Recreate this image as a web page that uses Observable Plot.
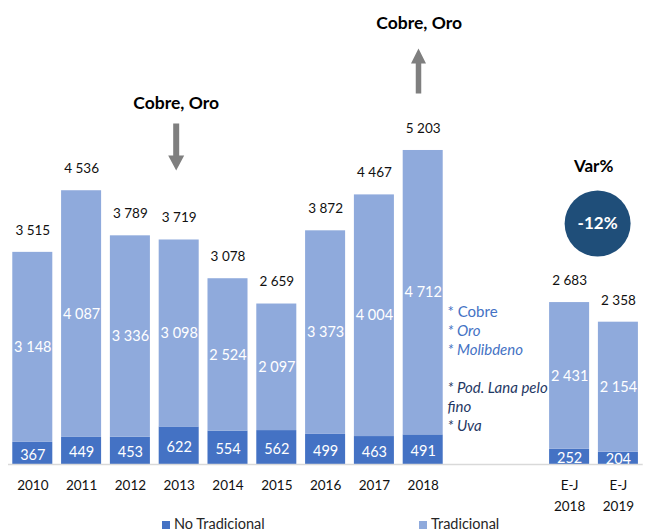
<!DOCTYPE html>
<html>
<head>
<meta charset="utf-8">
<script src="https://cdn.jsdelivr.net/npm/d3@7"></script>
<script src="https://cdn.jsdelivr.net/npm/@observablehq/plot@0.6"></script>
<style>
  html, body { margin: 0; padding: 0; background: #fff; }
  #wrap { position: relative; width: 654px; height: 531px; overflow: hidden; font-family: Lato, "Open Sans", sans-serif; }
  #wrap svg { position: absolute; left: 0; top: 0; }
  .leg { position: absolute; top: 515px; font-size: 14.5px; color: #262626; line-height: 18px; white-space: nowrap; }
  .sw { display: inline-block; width: 8px; height: 8px; margin-right: 4px; }
</style>
</head>
<body>
<div id="wrap"></div>
<script>
// ---- data ----
const categories = ["2010","2011","2012","2013","2014","2015","2016","2017","2018","E-J 2018","E-J 2019"];
const tickLabels = ["2010","2011","2012","2013","2014","2015","2016","2017","2018","E-J\n2018","E-J\n2019"];
const noTradicional = [367,449,453,622,554,562,499,463,491,252,204];
const tradicional = [3148,4087,3336,3098,2524,2097,3373,4004,4712,2431,2154];
const totals = [3515,4536,3789,3719,3078,2659,3872,4467,5203,2683,2358];
const seriesNames = ["No Tradicional","Tradicional"];
const annotationCats = ["2013","2018"];
const annotationTexts = ["Cobre, Oro","Cobre, Oro"];
const varTitle = "Var%";
const varValue = "-12%";
const listItems = ["* Cobre","* Oro","* Molibdeno","","* Pod. Lana pelo","fino","* Uva"];

// ---- derived tables ----
const slots = [...categories.slice(0, 9), "gap1", "gap2", ...categories.slice(9)];
const rows = [];
categories.forEach((c, i) => {
  rows.push({cat: c, type: seriesNames[0], value: noTradicional[i], mid: noTradicional[i] / 2});
  rows.push({cat: c, type: seriesNames[1], value: tradicional[i], mid: noTradicional[i] + tradicional[i] / 2});
});
const tops = categories.map((c, i) => ({cat: c, top: noTradicional[i] + tradicional[i], label: totals[i]}));
const ticks = categories.map((c, i) => {
  const parts = tickLabels[i].split("\n");
  return {cat: c, l1: parts[0], l2: parts[1] || ""};
});
const fmt = v => d3.format(",")(v).replace(/,/g, " ");
const topOf = c => tops.find(d => d.cat === c).top;

const colors = ["#4472c4", "#8faadc"];
const font = "Lato, 'Open Sans', sans-serif";

// custom arrow symbols (shape relative to center)
const downArrow = {draw(ctx) {
  ctx.moveTo(-3, -23.5); ctx.lineTo(3, -23.5); ctx.lineTo(3, 8.5); ctx.lineTo(8, 8.5);
  ctx.lineTo(0, 23.5); ctx.lineTo(-8, 8.5); ctx.lineTo(-3, 8.5); ctx.closePath();
}};
const upArrow = {draw(ctx) {
  ctx.moveTo(0, -22.5); ctx.lineTo(7.5, -7.5); ctx.lineTo(2.75, -7.5); ctx.lineTo(2.75, 22.5);
  ctx.lineTo(-2.75, 22.5); ctx.lineTo(-2.75, -7.5); ctx.lineTo(-7.5, -7.5); ctx.closePath();
}};

const ann = annotationCats.map((c, i) => ({cat: c, text: annotationTexts[i], top: topOf(c)}));
const listRows = listItems.map((t, i) => ({i, t})).filter(d => d.t);
const varAnchor = [{cat: "E-J 2018", top: topOf("E-J 2018")}];

const chart = Plot.plot({
  width: 654, height: 512,
  marginLeft: 3.5, marginRight: 7.3, marginTop: 0, marginBottom: 48,
  x: {domain: slots, padding: 0.18, round: false, axis: null},
  y: {domain: [0, 7688], axis: null},
  color: {domain: seriesNames, range: colors},
  style: {fontFamily: font, fontSize: "13px", background: "white", overflow: "visible"},
  marks: [
    Plot.barY(rows, {x: "cat", y: "value", fill: "type", order: seriesNames}),
    Plot.ruleY([0], {stroke: "#d9d9d9", strokeWidth: 1.5, insetLeft: 4.5, insetRight: 4}),
    // inner labels
    Plot.text(rows.filter(d => d.type === seriesNames[1]), {x: "cat", y: "mid", text: d => fmt(d.value), fill: "white", fontSize: 14.5}),
    Plot.text(rows.filter(d => d.type === seriesNames[0]), {x: "cat", y: "mid", text: d => fmt(d.value), fill: "white", fontSize: 14.5, dy: 1.5}),
    // totals
    Plot.text(tops, {x: "cat", y: "top", text: d => fmt(d.label), fill: "#111", fontSize: 13.5, dy: -22}),
    // x tick labels
    Plot.text(ticks, {x: "cat", y: 0, text: "l1", fill: "#111", fontSize: 13.5, dy: 21}),
    Plot.text(ticks, {x: "cat", y: 0, text: "l2", fill: "#111", fontSize: 13.5, dy: 42}),
    // annotations
    Plot.text(ann.filter(d => d.cat === annotationCats[0]), {x: "cat", y: "top", text: "text", fontWeight: "bold", fontSize: 17.5, fill: "#000", dx: -3, dy: -136.6}),
    Plot.dot(ann.filter(d => d.cat === annotationCats[0]), {x: "cat", y: "top", symbol: downArrow, fill: "#7f7f7f", stroke: "none", dx: -3, dy: -93.1}),
    Plot.text(ann.filter(d => d.cat === annotationCats[1]), {x: "cat", y: "top", text: "text", fontWeight: "bold", fontSize: 17.5, fill: "#000", dx: -4, dy: -127}),
    Plot.dot(ann.filter(d => d.cat === annotationCats[1]), {x: "cat", y: "top", symbol: upArrow, fill: "#7f7f7f", stroke: "none", dx: -4.7, dy: -79.5}),
    // Var%
    Plot.text(varAnchor, {x: "cat", y: "top", text: [varTitle], fontWeight: "bold", fontSize: 17, fill: "#000", dx: 24, dy: -136}),
    Plot.dot(varAnchor, {x: "cat", y: "top", r: 33, fill: "#1f4e79", stroke: "none", dx: 28, dy: -79}),
    Plot.text(varAnchor, {x: "cat", y: "top", text: [varValue], fontWeight: "bold", fontSize: 17, fill: "white", dx: 28, dy: -79}),
    // product list (one text per line)
    ...listRows.map(d => Plot.text([d], {x: () => "gap1", y: () => 0, text: "t", textAnchor: "start", fontSize: 15,
      fontStyle: d.i === 0 ? "normal" : "italic",
      fill: d.i < 3 ? "#4472c4" : "#1f3864",
      dx: -24.5, dy: -152.5 + 19 * d.i}))
  ]
});

const wrap = document.getElementById("wrap");
wrap.appendChild(chart);
// legend below the SVG
const legendPos = [162, 419];
seriesNames.forEach((name, i) => {
  const el = document.createElement("div");
  el.className = "leg";
  el.style.left = legendPos[i] + "px";
  el.innerHTML = `<span class="sw" style="background:${colors[i]}"></span>${name}`;
  wrap.appendChild(el);
});
</script>
</body>
</html>
